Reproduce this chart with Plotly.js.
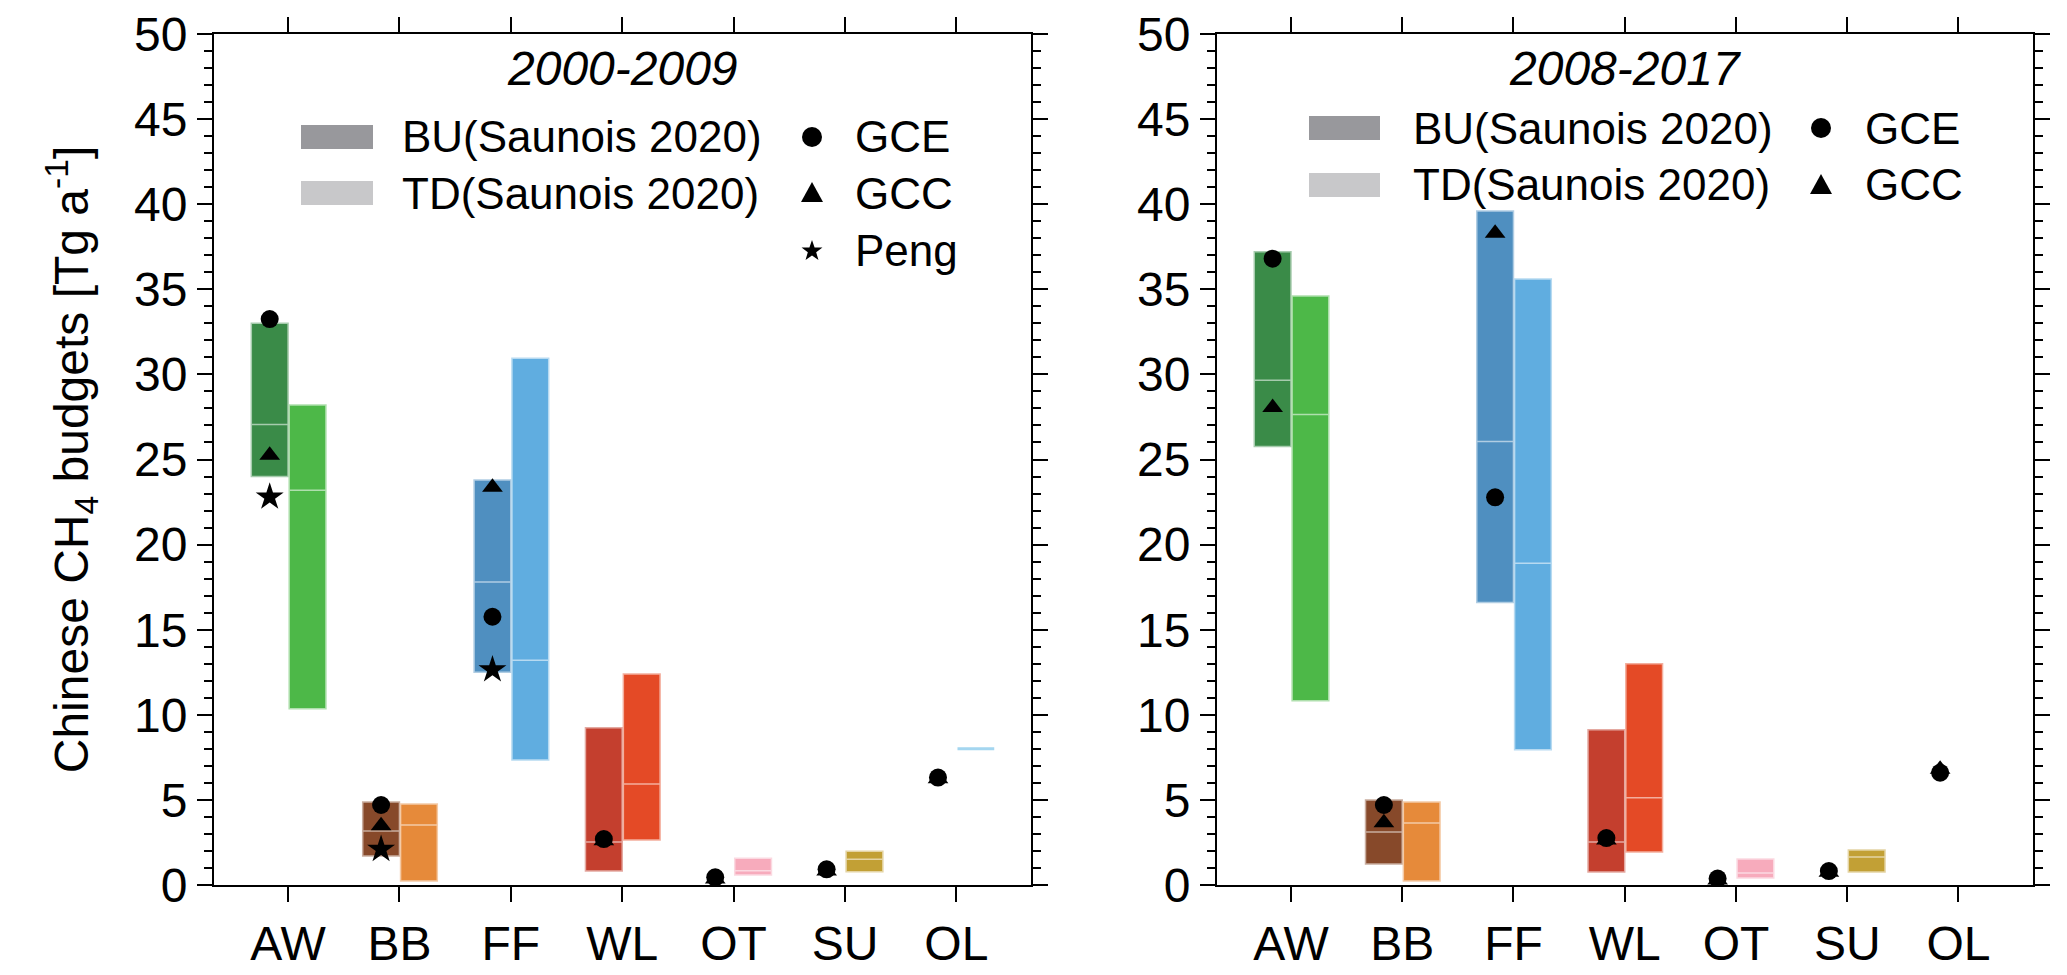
<!DOCTYPE html>
<html>
<head>
<meta charset="utf-8">
<script src="https://cdn.plot.ly/plotly-3.0.1.min.js"></script>
<style>body{margin:0;background:#fff}</style>
</head>
<body>
<div id="chart" style="width:2067px;height:975px"></div>
<script>
const categories = ["AW", "BB", "FF", "WL", "OT", "SU", "OL"];

// 2000-2009
const buMinA = [24.0, 1.7, 12.5, 0.82, null, null, null];
const buMedA = [27.05, 3.18, 17.8, 2.53, null, null, null];
const buMaxA = [33.0, 4.88, 23.8, 9.24, null, null, null];
const tdMinA = [10.35, 0.24, 7.35, 2.65, 0.59, 0.78, 8.0];
const tdMedA = [23.2, 3.53, 13.2, 5.94, 0.84, 1.51, 8.0];
const tdMaxA = [28.2, 4.76, 30.95, 12.4, 1.57, 1.98, 8.0];
const gceA = [33.25, 4.7, 15.76, 2.7, 0.45, 0.92, 6.31];
const gccA = [25.25, 3.48, 23.37, 2.6, 0.35, 0.82, 6.25];
const pengA = [22.8, 2.1, 12.65, null, null, null, null];

// 2008-2017
const buMinB = [25.76, 1.23, 16.6, 0.76, null, null, null];
const buMedB = [29.65, 3.12, 26.06, 2.53, null, null, null];
const buMaxB = [37.2, 5.0, 39.6, 9.12, null, null, null];
const tdMinB = [10.82, 0.24, 7.94, 1.94, 0.41, 0.76, null];
const tdMedB = [27.65, 3.65, 18.9, 5.12, 0.7, 1.65, null];
const tdMaxB = [34.6, 4.88, 35.6, 13.0, 1.53, 2.06, null];
const gceB = [36.8, 4.7, 22.78, 2.76, 0.38, 0.82, 6.6];
const gccB = [28.05, 3.66, 38.3, 2.65, 0.3, 0.75, 6.8];

const buColors = ["#3a8b48", "#87492a", "#4f8fc0", "#c43f2e", "#e56b80", "#b08a2a", "#5aa9d6"];
const tdColors = ["#4db848", "#e68a3a", "#60ade0", "#e44a26", "#f7abbc", "#c2a035", "#a4d6f0"];

const FONT = "Liberation Sans, Arial, sans-serif";
const BAR_W = 0.33;

function tint(hex, f) {
	let r = parseInt(hex.slice(1, 3), 16);
	let g = parseInt(hex.slice(3, 5), 16);
	let b = parseInt(hex.slice(5, 7), 16);
	r = Math.round(r + (255 - r) * f);
	g = Math.round(g + (255 - g) * f);
	b = Math.round(b + (255 - b) * f);
	return "rgb(" + r + "," + g + "," + b + ")";
}

function rangeBoxes(lo, med, hi, colors, shift, xa, ya) {
	let traces = [];
	categories.forEach((cat, i) => {
		if (lo[i] == null) return;
		let flat = lo[i] == hi[i];
		traces.push({
			type: "box",
			x: [i + shift],
			q1: [lo[i]],
			median: [med[i]],
			q3: [hi[i]],
			lowerfence: [lo[i]],
			upperfence: [hi[i]],
			width: BAR_W,
			whiskerwidth: 0,
			boxpoints: false,
			fillcolor: colors[i],
			line: { color: flat ? colors[i] : tint(colors[i], 0.55), width: flat ? 3 : 1.5 },
			hoverinfo: "skip",
			xaxis: xa,
			yaxis: ya
		});
	});
	return traces;
}

function markerTrace(values, symbol, size, xa, ya) {
	let x = [];
	let y = [];
	values.forEach((v, i) => {
		if (v == null) return;
		x.push(i - BAR_W / 2);
		y.push(v);
	});
	return {
		type: "scatter",
		mode: "markers",
		x: x,
		y: y,
		marker: { symbol: symbol, size: size, color: "black", line: { width: 0 } },
		hoverinfo: "skip",
		xaxis: xa,
		yaxis: ya
	};
}

let data = []
	.concat(rangeBoxes(buMinA, buMedA, buMaxA, buColors, -BAR_W / 2, "x", "y"))
	.concat(rangeBoxes(tdMinA, tdMedA, tdMaxA, tdColors, BAR_W / 2 + 0.01, "x", "y"))
	.concat(rangeBoxes(buMinB, buMedB, buMaxB, buColors, -BAR_W / 2, "x2", "y2"))
	.concat(rangeBoxes(tdMinB, tdMedB, tdMaxB, tdColors, BAR_W / 2 + 0.01, "x2", "y2"));

data.push(markerTrace(pengA, "star", 21, "x", "y"));
data.push(markerTrace(gccA, "triangle-up", 18, "x", "y"));
data.push(markerTrace(gceA, "circle", 18, "x", "y"));
data.push(markerTrace(gccB, "triangle-up", 18, "x2", "y2"));
data.push(markerTrace(gceB, "circle", 18, "x2", "y2"));

// pixel geometry of the two panels
const PLOT_L = 214, PLOT_R = 2033, PLOT_T = 34, PLOT_B = 885;
const PANEL_A = [214, 1031];
const PANEL_B = [1217, 2033];
const W = PLOT_R - PLOT_L;

function xaxisFor(panel, anchor) {
	return {
		domain: [(panel[0] - PLOT_L) / W, (panel[1] - PLOT_L) / W],
		anchor: anchor,
		range: [-0.665, 6.67],
		tickvals: categories.map((c, i) => i),
		ticktext: categories,
		ticks: "outside",
		ticklen: 15,
		tickwidth: 2,
		tickcolor: "black",
		showline: true,
		linewidth: 2,
		linecolor: "black",
		mirror: "ticks",
		showgrid: false,
		zeroline: false,
		fixedrange: true,
		tickfont: { size: 48, color: "black" }
	};
}

function yaxisFor(anchor, title) {
	let ax = {
		anchor: anchor,
		range: [0, 50],
		dtick: 5,
		ticks: "outside",
		ticklen: 15,
		tickwidth: 2,
		tickcolor: "black",
		minor: { dtick: 1, ticks: "outside", ticklen: 8, tickwidth: 2, tickcolor: "black", showgrid: false },
		showline: true,
		linewidth: 2,
		linecolor: "black",
		mirror: "ticks",
		showgrid: false,
		zeroline: false,
		fixedrange: true,
		tickfont: { size: 48, color: "black" }
	};
	if (title) {
		ax.title = { text: title, font: { size: 48, color: "black" }, standoff: 30 };
	}
	return ax;
}

// legend: swatches + markers drawn in panel-domain coordinates
function fx(panel, px) { return (px - panel[0]) / (panel[1] - panel[0]); }
function fy(py) { return (PLOT_B - py) / (PLOT_B - PLOT_T); }

let shapes = [];
let annotations = [];

function legendBlock(panel, xref, yref, opts) {
	// swatches
	[["BU(Saunois 2020)", "#98989c", opts.rows[0]], ["TD(Saunois 2020)", "#c8c8ca", opts.rows[1]]].forEach(item => {
		shapes.push({
			type: "rect", xref: xref, yref: yref,
			x0: fx(panel, opts.swatchX[0]), x1: fx(panel, opts.swatchX[1]),
			y0: fy(item[2] + 12), y1: fy(item[2] - 12),
			fillcolor: item[1], line: { width: 0 }
		});
		annotations.push({
			xref: xref, yref: yref, x: fx(panel, opts.textX), y: fy(item[2]),
			xanchor: "left", yanchor: "middle", showarrow: false,
			text: item[0], font: { size: 44, color: "black" }
		});
	});
	// markers
	opts.markers.forEach((m, k) => {
		let mx = fx(panel, opts.markerX);
		let my = fy(opts.rows[k]);
		if (m == "GCE") {
			shapes.push({
				type: "circle", xref: xref, yref: yref, xsizemode: "pixel", ysizemode: "pixel",
				xanchor: mx, yanchor: my, x0: -10, x1: 10, y0: -10, y1: 10,
				fillcolor: "black", line: { width: 0 }
			});
		} else if (m == "GCC") {
			shapes.push({
				type: "path", xref: xref, yref: yref, xsizemode: "pixel", ysizemode: "pixel",
				xanchor: mx, yanchor: my, path: "M-11,-9 L11,-9 L0,11 Z",
				fillcolor: "black", line: { width: 0 }
			});
		} else {
			let pts = [];
			for (let j = 0; j < 10; j++) {
				let r = j % 2 == 0 ? 11 : 4.4;
				let a = Math.PI / 2 + j * Math.PI / 5;
				pts.push((r * Math.cos(a)).toFixed(2) + "," + (r * Math.sin(a) - 1).toFixed(2));
			}
			shapes.push({
				type: "path", xref: xref, yref: yref, xsizemode: "pixel", ysizemode: "pixel",
				xanchor: mx, yanchor: my, path: "M" + pts.join(" L") + " Z",
				fillcolor: "black", line: { width: 0 }
			});
		}
		annotations.push({
			xref: xref, yref: yref, x: fx(panel, opts.markerTextX), y: my,
			xanchor: "left", yanchor: "middle", showarrow: false,
			text: m, font: { size: 44, color: "black" }
		});
	});
	annotations.push({
		xref: xref, yref: yref, x: 0.5, y: fy(69),
		xanchor: "center", yanchor: "middle", showarrow: false,
		text: "<i>" + opts.title + "</i>", font: { size: 48, color: "black" }
	});
}

legendBlock(PANEL_A, "x domain", "y domain", {
	title: "2000-2009",
	rows: [137, 193, 250],
	swatchX: [301, 373],
	textX: 400,
	markerX: 812,
	markerTextX: 853,
	markers: ["GCE", "GCC", "Peng"]
});
legendBlock(PANEL_B, "x2 domain", "y2 domain", {
	title: "2008-2017",
	rows: [128, 185],
	swatchX: [1309, 1380],
	textX: 1411,
	markerX: 1821,
	markerTextX: 1863,
	markers: ["GCE", "GCC"]
});

let layout = {
	width: 2067,
	height: 975,
	margin: { l: PLOT_L, r: 2067 - PLOT_R, t: PLOT_T, b: 975 - PLOT_B },
	paper_bgcolor: "white",
	plot_bgcolor: "white",
	font: { family: FONT, color: "black" },
	showlegend: false,
	boxmode: "overlay",
	xaxis: xaxisFor(PANEL_A, "y"),
	yaxis: yaxisFor("x", "Chinese CH<sub>4</sub> budgets [Tg a<sup>-1</sup>]"),
	xaxis2: xaxisFor(PANEL_B, "y2"),
	yaxis2: yaxisFor("x2"),
	shapes: shapes,
	annotations: annotations
};

Plotly.newPlot("chart", data, layout, { displayModeBar: false, staticPlot: true });
</script>
</body>
</html>
